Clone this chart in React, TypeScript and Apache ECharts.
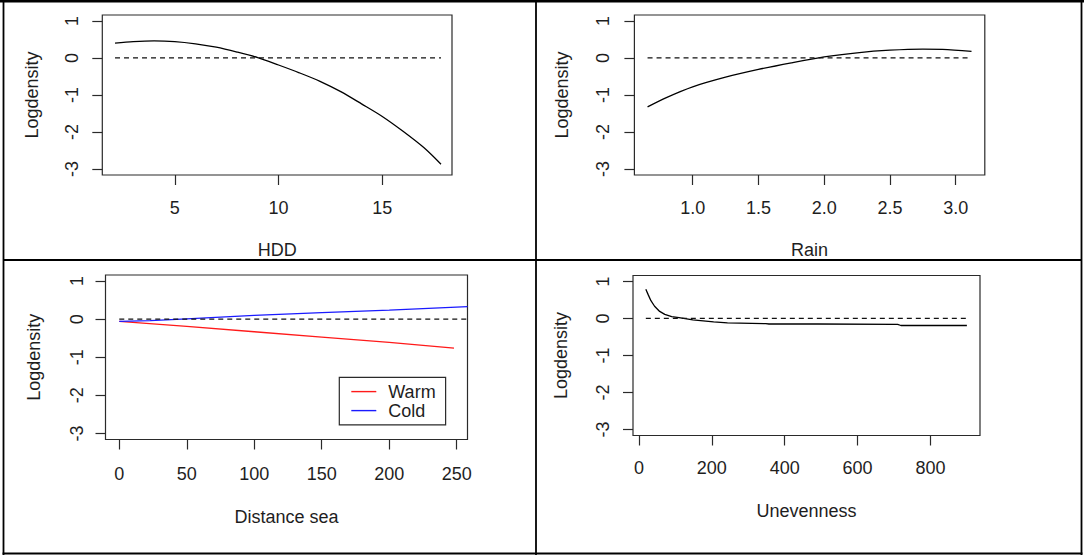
import React, { useEffect, useRef } from "react";
import * as echarts from "echarts";

// ---- data ----
const hddX = [2.12, 3, 4, 5, 6, 7, 8, 9, 10, 11, 12, 13, 14, 15, 16, 17, 17.83];
const hddY = [0.4, 0.44, 0.46, 0.44, 0.38, 0.29, 0.16, 0.01, -0.19, -0.4, -0.63, -0.91, -1.24, -1.58, -1.98, -2.42, -2.87];

const rainX = [0.657, 0.8, 1.0, 1.25, 1.5, 1.75, 2.0, 2.25, 2.5, 2.75, 2.9, 3.12];
const rainY = [-1.32, -1.07, -0.78, -0.52, -0.31, -0.13, 0.03, 0.14, 0.21, 0.24, 0.23, 0.18];

const distWarmX = [0, 50, 100, 150, 200, 248];
const distWarmY = [-0.06, -0.19, -0.33, -0.47, -0.61, -0.76];
const distColdX = [0, 23, 50, 100, 150, 200, 258];
const distColdY = [-0.06, -0.04, 0.01, 0.1, 0.17, 0.24, 0.33];

const unevX = [19, 26, 33, 43, 57, 71, 90, 110, 148, 205, 243, 348, 357, 490, 710, 719, 900];
const unevY = [0.79, 0.63, 0.48, 0.33, 0.19, 0.11, 0.05, 0.02, -0.04, -0.09, -0.12, -0.14, -0.15, -0.15, -0.16, -0.19, -0.19];

const yTicks = [-3, -2, -1, 0, 1];
const hddTicks = [5, 10, 15];
const rainTicks = [1.0, 1.5, 2.0, 2.5, 3.0];
const distTicks = [0, 50, 100, 150, 200, 250];
const unevTicks = [0, 200, 400, 600, 800];

const xNames = ["HDD", "Rain", "Distance sea", "Unevenness"];
const yName = "Logdensity";
const legendNames = ["Warm", "Cold"];

const FONT = "'Liberation Sans', Arial, Helvetica, sans-serif";
const TXT = "#1e1e1e";
const AX = "#2a2a2a";

const pairs = (xs: number[], ys: number[]) => xs.map((x, i) => [x, ys[i]]);
const zeroLine = (xs: number[]) => [[xs[0], 0], [xs[xs.length - 1], 0]];

function xAxisFor(gridIndex: number, min: number, max: number, ticks: number[], name: string, labelGap: number, nameGap: number, fmt?: (v: number) => string) {
  return {
    type: "value",
    gridIndex,
    position: "bottom",
    min,
    max,
    name,
    nameLocation: "middle",
    nameGap,
    nameMoveOverlap: false,
    nameTextStyle: { fontSize: 18, color: TXT, fontFamily: FONT, verticalAlign: "middle" },
    axisLine: { show: false, onZero: false },
    splitLine: { show: false },
    axisTick: { show: true, inside: false, length: 10, customValues: ticks, lineStyle: { color: AX, width: 1.2 } },
    axisLabel: {
      customValues: ticks,
      fontSize: 18,
      color: TXT,
      fontFamily: FONT,
      margin: labelGap,
      verticalAlign: "middle",
      formatter: fmt ? (v: number) => fmt(v) : undefined,
    },
  };
}

function yAxisFor(gridIndex: number, labelGap: number, nameGap: number) {
  return {
    type: "value",
    gridIndex,
    position: "left",
    min: -3.16,
    max: 1.16,
    name: yName,
    nameLocation: "middle",
    nameGap,
    nameMoveOverlap: false,
    nameRotate: 90,
    nameTextStyle: { fontSize: 18, color: TXT, fontFamily: FONT, verticalAlign: "middle", align: "center" },
    axisLine: { show: false, onZero: false },
    splitLine: { show: false },
    axisTick: { show: true, inside: false, length: 10, customValues: yTicks, lineStyle: { color: AX, width: 1.2 } },
    axisLabel: {
      customValues: yTicks,
      fontSize: 18,
      color: TXT,
      fontFamily: FONT,
      rotate: 90,
      margin: labelGap,
      align: "center",
      verticalAlign: "middle",
    },
  };
}

function curve(name: string, idx: number, data: number[][], color: string, smooth: number | boolean) {
  return {
    name,
    type: "line",
    xAxisIndex: idx,
    yAxisIndex: idx,
    data,
    symbol: "none",
    showSymbol: false,
    smooth,
    lineStyle: { color, width: 1.3 },
    itemStyle: { color },
    silent: true,
    clip: true,
    z: 2,
  };
}

function dashed(idx: number, data: number[][]) {
  return {
    type: "line",
    xAxisIndex: idx,
    yAxisIndex: idx,
    data,
    symbol: "none",
    showSymbol: false,
    lineStyle: { color: "#111", width: 1.2, type: [5, 4] },
    silent: true,
    z: 3,
  };
}

export default function App() {
  const ref = useRef<HTMLDivElement>(null);
  useEffect(() => {
    if (!ref.current) return;
    const chart = echarts.init(ref.current, undefined, { renderer: "svg" });
    const gridBase = { show: true, borderColor: AX, borderWidth: 1.2, backgroundColor: "transparent", containLabel: false, outerBoundsMode: "none" };
    const option: any = {
      animation: false,
      backgroundColor: "#ffffff",
      textStyle: { fontFamily: FONT },
      grid: [
        { ...gridBase, left: 102.3, top: 15, width: 349.7, height: 160 },
        { ...gridBase, left: 634.4, top: 15, width: 350.4, height: 160 },
        { ...gridBase, left: 105.5, top: 275, width: 362, height: 164.5 },
        { ...gridBase, left: 633, top: 275.5, width: 347, height: 160 },
      ],
      xAxis: [
        xAxisFor(0, 1.507, 18.36, hddTicks, xNames[0], 32.5, 75),
        xAxisFor(1, 0.557, 3.221, rainTicks, xNames[1], 32.5, 75, (v) => v.toFixed(1)),
        xAxisFor(2, -10.2, 258, distTicks, xNames[2], 34, 77),
        xAxisFor(3, -16.2, 936, unevTicks, xNames[3], 32.5, 75),
      ],
      yAxis: [yAxisFor(0, 30.6, 70), yAxisFor(1, 31, 72), yAxisFor(2, 29, 72), yAxisFor(3, 30.5, 72)],
      legend: {
        data: legendNames.map((n) => ({ name: n, icon: "rect" })),
        orient: "vertical",
        left: 339.3,
        top: 377.3,
        padding: [5.3, 10, 5.3, 12],
        itemWidth: 25,
        itemHeight: 1.4,
        itemGap: 1,
        borderColor: AX,
        borderWidth: 1.2,
        borderRadius: 0,
        backgroundColor: "#ffffff",
        selectedMode: false,
        textStyle: { fontSize: 18, color: TXT, fontFamily: FONT, lineHeight: 14, padding: [0, 0, 0, 7] },
      },
      series: [
        curve("HDD", 0, pairs(hddX, hddY), "#000", 0.3),
        dashed(0, zeroLine(hddX)),
        curve("Rain", 1, pairs(rainX, rainY), "#000", 0.3),
        dashed(1, zeroLine(rainX)),
        curve(legendNames[0], 2, pairs(distWarmX, distWarmY), "#ff1a1a", false),
        curve(legendNames[1], 2, pairs(distColdX, distColdY), "#1a1aff", false),
        dashed(2, zeroLine(distColdX)),
        curve("Unevenness", 3, pairs(unevX, unevY), "#000", false),
        dashed(3, zeroLine(unevX)),
      ],
      graphic: [
        { type: "line", shape: { x1: 0, y1: 1.2, x2: 1084, y2: 1.2 }, style: { stroke: "#000", lineWidth: 2.6 } },
        { type: "line", shape: { x1: 3.5, y1: 0, x2: 3.5, y2: 555 }, style: { stroke: "#000", lineWidth: 1.8 } },
        { type: "line", shape: { x1: 1081.5, y1: 0, x2: 1081.5, y2: 555 }, style: { stroke: "#000", lineWidth: 1.8 } },
        { type: "line", shape: { x1: 2.6, y1: 553.5, x2: 1082.4, y2: 553.5 }, style: { stroke: "#000", lineWidth: 1.8 } },
        { type: "line", shape: { x1: 536, y1: 0, x2: 536, y2: 555 }, style: { stroke: "#000", lineWidth: 1.8 } },
        { type: "line", shape: { x1: 3.5, y1: 260, x2: 1081.5, y2: 260 }, style: { stroke: "#000", lineWidth: 1.8 } },
      ],
    };
    chart.setOption(option);
    return () => chart.dispose();
  }, []);
  return (
    <div
      ref={ref}
      style={{ position: "fixed", left: 0, top: 0, width: 1084, height: 555, background: "#fff" }}
    />
  );
}
